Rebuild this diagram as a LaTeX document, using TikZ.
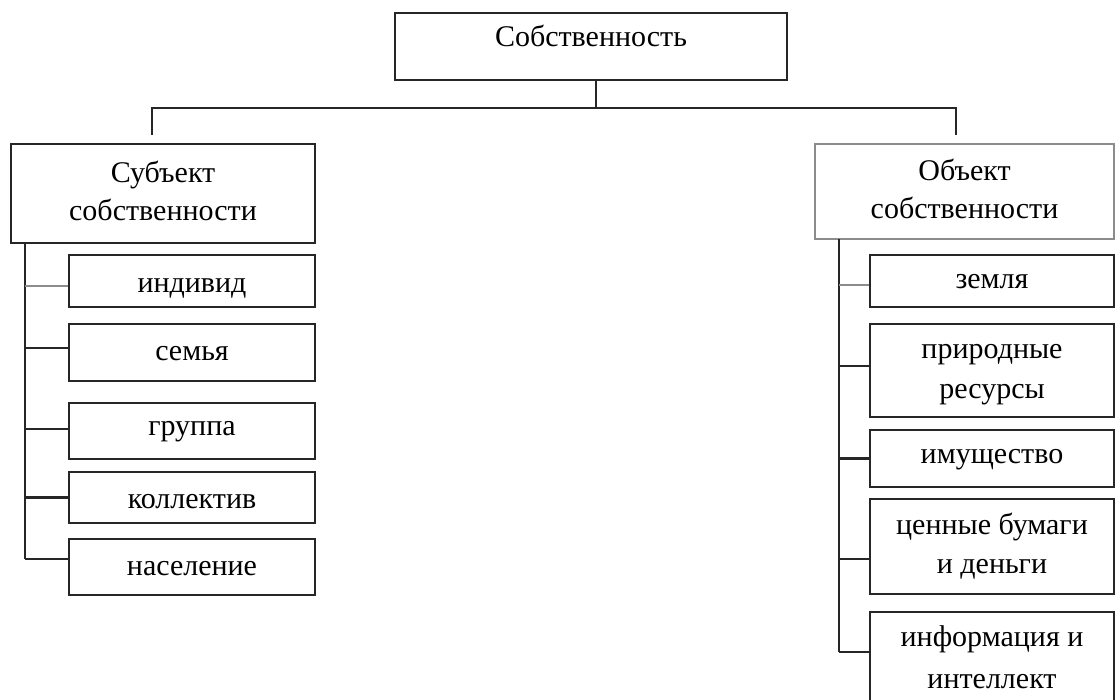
\documentclass[tikz,border=0pt]{standalone}
\usepackage{fontspec}
\setmainfont{Liberation Serif}
\begin{document}
\begin{tikzpicture}[x=1pt,y=-1pt,
  basebox/.style={draw=black!85, line width=2.2pt, rectangle, inner sep=0pt,
    font=\fontsize{30}{40}\selectfont, text=black},
  box/.style={basebox, text height=28pt, text depth=12pt},
  mbox/.style={basebox, align=center},
  lbox/.style={mbox, draw=black!45, line width=1.6pt},
  link/.style={draw=black!85, line width=2.2pt},
  thin/.style={draw=black!45, line width=1.6pt}]
\useasboundingbox (0,0) rectangle (1115,700);
\clip (0,0) rectangle (1115,700);
% root
\node[box, minimum width=392pt, minimum height=67pt, text height=20pt, text depth=19pt] (root) at (591,46.5) {Собственность};
% parents
\node[mbox, font=\fontsize{30}{38}\selectfont, minimum width=304pt, minimum height=99pt] (sub) at (163,193.5) {\strut Субъект\\собственности\strut};
\node[lbox, font=\fontsize{30}{38}\selectfont, minimum width=299pt, minimum height=95pt] (obj) at (964.5,191.5) {\strut Объект\\собственности\strut};
% bar
\coordinate (barM) at (596,108);
\coordinate (barL) at (152,108);
\coordinate (barR) at (956,108);
\coordinate (dropL) at (152,135);
\coordinate (dropR) at (956,135);
\draw[link] (root.south -| barM) -- (barM);
\draw[link] (dropL) -- (barL) -- (barR) -- (dropR);
% left children
\begin{scope}[every node/.append style={minimum width=246pt}]
\node[box, minimum height=52pt, text height=30pt, text depth=8pt] (c1) at (192,281) {индивид};
\node[box, minimum height=57pt] (c2) at (192,352.5) {семья};
\node[box, minimum height=56pt, text height=24pt, text depth=16pt] (c3) at (192,431) {группа};
\node[box, minimum height=51pt, text height=29pt, text depth=8pt] (c4) at (192,497.5) {коллектив};
\node[box, minimum height=56pt] (c5) at (192,567) {население};
\end{scope}
% right children
\begin{scope}[every node/.append style={minimum width=244pt}]
\node[box, minimum height=52pt] (r1) at (992,281) {земля};
\node[mbox, minimum height=93pt] (r2) at (992,370.5) {\strut природные\\ресурсы\strut};
\node[box, minimum height=57pt, text height=24pt, text depth=15pt] (r3) at (992,458.5) {имущество};
\node[mbox, font=\fontsize{30}{39}\selectfont, minimum height=95pt] (r4) at (992,546.5) {\strut ценные бумаги\\и деньги\strut};
\node[mbox, font=\fontsize{30}{42}\selectfont, minimum height=94pt] (r5) at (992,659) {\strut информация и\\интеллект\strut};
\end{scope}
% attachment points
\coordinate (p1) at ([yshift=-5pt]c1.west);
\coordinate (p2) at ([yshift=4.5pt]c2.west);
\coordinate (p3) at ([yshift=2pt]c3.west);
\coordinate (p4) at (c4.west);
\coordinate (q1) at ([yshift=-4pt]r1.west);
\coordinate (q2) at ([yshift=4.5pt]r2.west);
\coordinate (q3) at (r3.west);
\coordinate (q4) at ([yshift=-12.5pt]r4.west);
% left trunk
\coordinate (tL) at (25,243);
\coordinate (bL) at (25,559);
\draw[link] (tL) -- (bL);
\draw[thin] (tL |- p1) -- (p1);
\draw[link] (tL |- p2) -- (p2);
\draw[link] (tL |- p3) -- (p3);
\draw[link] (tL |- p4) -- (p4);
\draw[link] (bL) -- (bL -| c5.west);
% right trunk
\coordinate (tR) at (839,239);
\coordinate (bR) at (839,652);
\draw[link] (tR) -- (bR);
\draw[thin] (tR |- q1) -- (q1);
\draw[link] (tR |- q2) -- (q2);
\draw[link] (tR |- q3) -- (q3);
\draw[link] (tR |- q4) -- (q4);
\draw[link] (bR) -- (bR -| r5.west);
\end{tikzpicture}
\end{document}
